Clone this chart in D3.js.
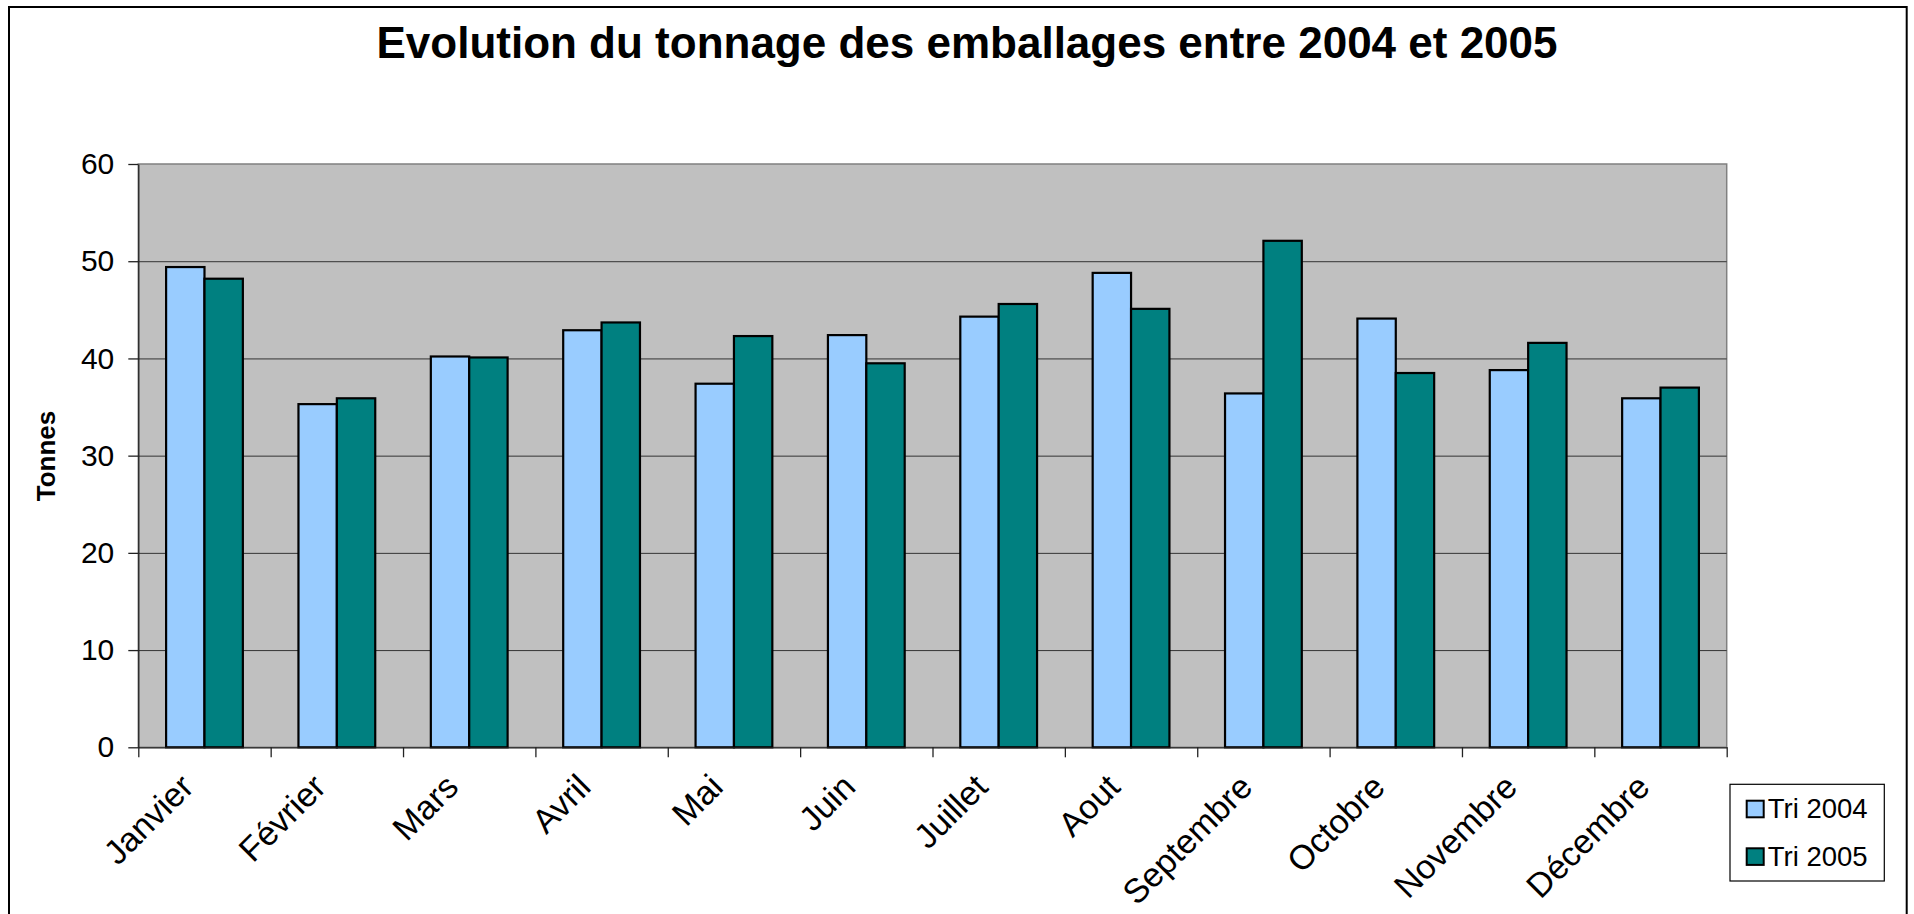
<!DOCTYPE html>
<html>
<head>
<meta charset="utf-8">
<title>Evolution du tonnage des emballages</title>
<script src="https://d3js.org/d3.v7.min.js"></script>
<style>
body { margin: 0; background: #fff; }
svg { display: block; font-family: "Liberation Sans", Arial, sans-serif; }
.grid line { stroke: #333; stroke-width: 1; }
.grid path { display: none; }
.axis path, .axis line { stroke: #222; stroke-width: 1.3; }
</style>
</head>
<body>
<div id="chart"></div>
<script>
// data
var months = ["Janvier", "Février", "Mars", "Avril", "Mai", "Juin", "Juillet", "Aout", "Septembre", "Octobre", "Novembre", "Décembre"];
var series = ["Tri 2004", "Tri 2005"];
var tri2004 = [49.4, 35.3, 40.2, 42.9, 37.4, 42.4, 44.3, 48.8, 36.4, 44.1, 38.8, 35.9];
var tri2005 = [48.2, 35.9, 40.1, 43.7, 42.3, 39.5, 45.6, 45.1, 52.1, 38.5, 41.6, 37.0];
var yTicks = [0, 10, 20, 30, 40, 50, 60];
var colors = ["#99CCFF", "#008080"];

var W = 1914, H = 914;
var pLeft = 138.3, pRight = 1726.7, pTop = 164, pBottom = 747.3;

var svg = d3.select("#chart").append("svg")
    .attr("width", W)
    .attr("height", H);

// outer frame
svg.append("rect")
    .attr("x", 9).attr("y", 7)
    .attr("width", 1897.7).attr("height", 920)
    .attr("fill", "none").attr("stroke", "#000").attr("stroke-width", 2);

svg.append("text")
    .attr("x", 967).attr("y", 58.3)
    .attr("text-anchor", "middle")
    .style("font-size", "44px").style("font-weight", "bold")
    .text("Evolution du tonnage des emballages entre 2004 et 2005");

var x = d3.scaleBand().domain(months).range([pLeft, pRight]).padding(0);
var xs = d3.scaleBand().domain(series).range([27.8, x.bandwidth() - 27.8]).padding(0);
var y = d3.scaleLinear().domain([0, 60]).range([pBottom, pTop]);

// plot area
svg.append("rect")
    .attr("x", pLeft).attr("y", pTop)
    .attr("width", pRight - pLeft).attr("height", pBottom - pTop)
    .attr("fill", "#C0C0C0").attr("stroke", "#808080").attr("stroke-width", 1.5);

svg.append("g")
    .attr("class", "grid")
    .attr("transform", "translate(" + pLeft + ",0)")
    .call(d3.axisLeft(y).tickValues(yTicks.slice(1, 6)).tickSize(-(pRight - pLeft)).tickFormat(""));

var table = months.map(function(m, i) {
  return {month: m, values: [{s: series[0], v: tri2004[i]}, {s: series[1], v: tri2005[i]}]};
});

var groups = svg.append("g").selectAll("g")
    .data(table)
    .enter().append("g")
    .attr("transform", function(d) { return "translate(" + x(d.month) + ",0)"; });

groups.selectAll("rect")
    .data(function(d) { return d.values; })
    .enter().append("rect")
    .attr("x", function(d) { return xs(d.s); })
    .attr("width", xs.bandwidth())
    .attr("y", function(d) { return y(d.v); })
    .attr("height", function(d) { return pBottom - y(d.v); })
    .attr("fill", function(d, i) { return colors[i]; })
    .attr("stroke", "#000").attr("stroke-width", 2.2);

// y axis
var yAxis = svg.append("g")
    .attr("class", "axis")
    .attr("transform", "translate(" + pLeft + ",0)")
    .call(d3.axisLeft(y).tickValues(yTicks).tickSize(10).tickSizeOuter(0).tickPadding(14));
yAxis.selectAll("text")
    .style("font-size", "30px").attr("fill", "#000");
yAxis.attr("font-family", null);

// x axis, ticks on category boundaries
var xb = d3.scaleLinear().domain([0, months.length]).range([pLeft, pRight]);
svg.append("g")
    .attr("class", "axis")
    .attr("transform", "translate(0," + pBottom + ")")
    .call(d3.axisBottom(xb).tickValues(d3.range(months.length + 1)).tickSize(10).tickSizeOuter(0).tickFormat(""));

svg.append("g").selectAll("text")
    .data(months)
    .enter().append("text")
    .attr("transform", function(d) {
      return "translate(" + (x(d) + x.bandwidth() / 2 - 9) + ",789) rotate(-45)";
    })
    .attr("text-anchor", "end")
    .style("font-size", "34px")
    .text(function(d) { return d; });

// y title
svg.append("text")
    .attr("transform", "translate(55,456) rotate(-90)")
    .attr("text-anchor", "middle")
    .style("font-size", "26px").style("font-weight", "bold")
    .text("Tonnes");

// legend
var lg = svg.append("g");
lg.append("rect")
    .attr("x", 1730).attr("y", 784.3)
    .attr("width", 154.3).attr("height", 96.7)
    .attr("fill", "#fff").attr("stroke", "#000").attr("stroke-width", 1.2);
var items = lg.selectAll("g")
    .data(series)
    .enter().append("g")
    .attr("transform", function(d, i) { return "translate(1746.7," + (800.7 + i * 47.6) + ")"; });
items.append("rect")
    .attr("width", 17).attr("height", 16.6)
    .attr("fill", function(d, i) { return colors[i]; })
    .attr("stroke", "#000").attr("stroke-width", 2);
items.append("text")
    .attr("x", 21).attr("y", 17.6)
    .style("font-size", "27.5px")
    .text(function(d) { return d; });
</script>
</body>
</html>
